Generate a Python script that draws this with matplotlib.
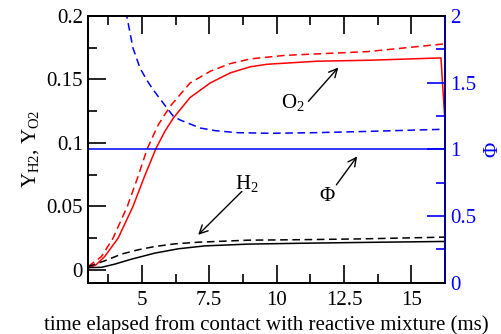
import matplotlib
matplotlib.use("Agg")
import matplotlib.pyplot as plt
from matplotlib.ticker import MultipleLocator, FuncFormatter

plt.rcParams["font.family"] = ["Liberation Serif", "DejaVu Serif"]
plt.rcParams["mathtext.fontset"] = "custom"
plt.rcParams["mathtext.rm"] = "Liberation Serif"
plt.rcParams["mathtext.it"] = "Liberation Serif:italic"

RED  = "#ff0000"
BLUE = "#0000ff"

# ── Data ───────────────────────────────────────────────────────────────────────
t_o2_solid = [3.0, 3.3, 3.62, 4.12, 4.67, 5.1, 5.52, 5.85, 6.17, 6.79, 7.54, 8.28,
              9.02, 9.65, 11.5, 13.5, 16.1, 16.24]
y_o2_solid = [0.0015, 0.004, 0.0105, 0.025, 0.05, 0.0737, 0.0955, 0.109, 0.1197, 0.1358,
              0.1473, 0.1552, 0.16, 0.162, 0.1644, 0.1652, 0.167, 0.12]

t_o2_dash = [3.0, 3.5, 3.93, 4.46, 4.86, 5.2, 5.6, 6.05, 6.79, 7.54, 8.28, 9.02, 10.3, 13.4, 16.2]
y_o2_dash = [0.0026, 0.0105, 0.025, 0.05, 0.0737, 0.0955, 0.114, 0.1289, 0.1473, 0.1565,
             0.1625, 0.1662, 0.169, 0.172, 0.178]

t_h2_solid = [3.0, 3.5, 3.99, 4.61, 5.48, 6.35, 7.34, 8.95, 11.0, 13.1, 16.25]
y_h2_solid = [0.0018, 0.002, 0.0045, 0.0084, 0.0132, 0.0166, 0.0189, 0.0203, 0.021, 0.0216, 0.0224]

t_h2_dash = [3.0, 3.62, 4.24, 4.86, 5.48, 6.22, 7.09, 8.95, 11.0, 13.1, 16.25]
y_h2_dash = [0.0026, 0.0071, 0.0124, 0.0158, 0.0184, 0.0205, 0.0218, 0.0234, 0.0238, 0.0244, 0.0258]

t_phi_dash = [4.3, 4.44, 4.67, 4.93, 5.18, 5.43, 5.93, 6.16, 6.42, 7.16, 7.72, 8.5, 9.77, 11.5, 13.5, 16.16]
phi_dash   = [2.2, 2.0, 1.76, 1.61, 1.52, 1.444, 1.31, 1.25, 1.22, 1.16, 1.14, 1.125, 1.12, 1.125, 1.135, 1.15]

t_phi_solid = [3.0, 16.25]
phi_solid   = [1.0, 1.0]

fmt = FuncFormatter(lambda v, p: f"{v:g}")

fig = plt.figure(figsize=(5.01, 3.34), dpi=100)
ax = fig.add_axes([0.1756, 0.154, 0.7126, 0.798])
ax2 = ax.twinx()

lw = 1.1
ax.plot(t_o2_solid, y_o2_solid, color=RED, lw=lw)
ax.plot(t_o2_dash, y_o2_dash, color=RED, lw=lw, dashes=(5, 3))
ax.plot(t_h2_solid, y_h2_solid, color="black", lw=lw)
ax.plot(t_h2_dash, y_h2_dash, color="black", lw=lw, dashes=(5, 3))
ax2.plot(t_phi_solid, phi_solid, color=BLUE, lw=lw)
ax2.plot(t_phi_dash, phi_dash, color=BLUE, lw=lw, dashes=(5, 3))

ax.set_xlim(3, 16.25)
ax.set_ylim(-0.01, 0.2)
ax2.set_ylim(0, 2)

ax.xaxis.set_major_locator(MultipleLocator(2.5))
ax.xaxis.set_minor_locator(MultipleLocator(1.25))
ax.yaxis.set_major_locator(MultipleLocator(0.05))
ax.yaxis.set_minor_locator(MultipleLocator(0.025))
ax2.yaxis.set_major_locator(MultipleLocator(0.5))
ax2.yaxis.set_minor_locator(MultipleLocator(0.25))
for a in (ax.xaxis, ax.yaxis, ax2.yaxis):
    a.set_major_formatter(fmt)

ax.tick_params(which="both", direction="in", top=True, right=False, labelsize=15, width=1.2)
ax.tick_params(which="major", length=13)
ax.tick_params(which="minor", length=6.5)
ax.tick_params(axis="x", pad=6)
ax2.tick_params(which="both", direction="in", colors=BLUE, labelsize=15, width=1.2)
ax2.tick_params(which="major", length=13)
ax2.tick_params(which="minor", length=6.5)

for s in ax.spines.values():
    s.set_linewidth(1.4)
for s in ax2.spines.values():
    s.set_linewidth(1.4)
ax2.spines["right"].set_color("#000099")

ax.set_xlabel("time elapsed from contact with reactive mixture (ms)", fontsize=15, labelpad=4)
ax.set_ylabel(r"Y$_{\mathrm{H2}}$, Y$_{\mathrm{O2}}$", fontsize=15, labelpad=4)
ax2.set_ylabel("Φ", fontsize=15, color=BLUE, labelpad=5)

arrow = dict(arrowstyle="->,head_length=0.6,head_width=0.3", lw=1.0, color="black", shrinkA=0, shrinkB=0)
ax.text(10.62, 0.132, r"O$_2$", fontsize=15, ha="center", va="center")
ax.annotate("", xy=(12.29, 0.1594), xytext=(11.18, 0.1328), arrowprops=arrow)
ax.text(8.9, 0.0684, r"H$_2$", fontsize=15, ha="center", va="center")
ax.annotate("", xy=(7.09, 0.0276), xytext=(8.71, 0.0618), arrowprops=arrow)
ax.text(11.87, 0.058, "Φ", fontsize=15, ha="center", va="center")
ax.annotate("", xy=(12.99, 0.0894), xytext=(12.22, 0.067), arrowprops=arrow)

fig.savefig("out.png", dpi=100)
